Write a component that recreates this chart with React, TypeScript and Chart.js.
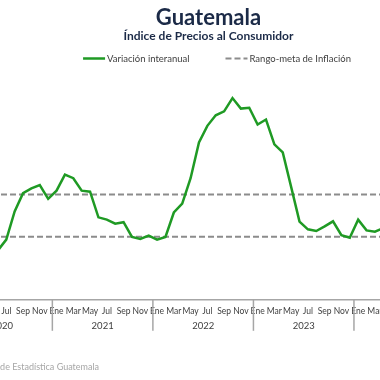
import React, { useEffect, useRef } from 'react';
import { Chart, registerables } from 'chart.js';

Chart.register(...registerables);

const FONT = 'Lato, "Open Sans", sans-serif';

const years = ['2020', '2021', '2022', '2023', '2024'];
const months = ['Ene', 'Feb', 'Mar', 'Abr', 'May', 'Jun', 'Jul', 'Ago', 'Sep', 'Oct', 'Nov', 'Dic'];
const labels = years.flatMap((y) => months.map((m) => `${m} ${y}`));

// Variación interanual (%), por año
const variacion2020 = [null, null, null, null, null, 2.35, 2.86, 4.2, 5.07, 5.3, 5.45, 4.8];
const variacion2021 = [5.19, 5.95, 5.78, 5.19, 5.14, 3.92, 3.81, 3.62, 3.69, 2.99, 2.89, 3.05];
const variacion2022 = [2.86, 2.99, 4.15, 4.57, 5.78, 7.48, 8.27, 8.77, 8.96, 9.59, 9.09, 9.13];
const variacion2023 = [8.33, 8.57, 7.39, 7.01, 5.37, 3.72, 3.35, 3.27, 3.49, 3.73, 3.07, 2.95];
const variacion2024 = [3.81, 3.3, 3.24, 3.41, null, null, null, null, null, null, null, null];
const variacion = [...variacion2020, ...variacion2021, ...variacion2022, ...variacion2023, ...variacion2024];

// Rango-meta de inflación (%)
const metaInferior = 3;
const metaSuperior = 5;

const TITLE = 'Guatemala';
const SUBTITLE = 'Índice de Precios al Consumidor';
const LEGEND_VAR = 'Variación interanual';
const LEGEND_META = 'Rango-meta de Inflación';
const SOURCE = 'Fuente: Instituto Nacional de Estadística Guatemala';

const GREEN = '#1f9a24';
const DASH_GRAY = '#8c8c8c';
const AXIS_GRAY = '#a6a6a6';
const TEXT_DARK = '#404040';
const NAVY = '#1b2a47';

const CANVAS_LEFT = -57;
const CANVAS_W = 534;
const CANVAS_H = 380;

const yearAxisPlugin = {
  id: 'yearAxis',
  afterDraw(chart: any) {
    const xs = chart.scales.x;
    const ctx = chart.ctx;
    const step = xs.getPixelForValue(1) - xs.getPixelForValue(0);
    const axisY = xs.top;
    ctx.save();
    ctx.strokeStyle = AXIS_GRAY;
    ctx.lineWidth = 1.5;
    ctx.fillStyle = TEXT_DARK;
    ctx.font = `9.5px ${FONT}`;
    ctx.textAlign = 'center';
    ctx.textBaseline = 'middle';
    years.forEach((yr, i) => {
      const start = xs.getPixelForValue(i * 12) - step / 2;
      const end = xs.getPixelForValue(i * 12 + 11) + step / 2;
      ctx.beginPath();
      ctx.moveTo(start, axisY);
      ctx.lineTo(start, axisY + 31);
      ctx.stroke();
      if (i === years.length - 1) {
        ctx.beginPath();
        ctx.moveTo(end, axisY);
        ctx.lineTo(end, axisY + 31);
        ctx.stroke();
      }
      ctx.fillText(yr, (start + end) / 2, axisY + 26);
    });
    ctx.restore();
  },
};

const legendPlugin = {
  id: 'customLegend',
  afterDraw(chart: any) {
    const ctx = chart.ctx;
    ctx.save();
    ctx.font = `9.5px ${FONT}`;
    const items = [
      { text: LEGEND_VAR, color: GREEN, dash: [] as number[], width: 2.5 },
      { text: LEGEND_META, color: DASH_GRAY, dash: [6, 3], width: 2 },
    ];
    const sym = 22;
    const gap = 2;
    const itemGap = 36;
    const widths = items.map((it) => sym + gap + ctx.measureText(it.text).width);
    const total = widths[0] + itemGap + widths[1];
    let x = chart.width / 2 + 7 - total / 2;
    const y = 58.5;
    items.forEach((it, i) => {
      ctx.beginPath();
      ctx.setLineDash(it.dash);
      ctx.strokeStyle = it.color;
      ctx.lineWidth = it.width;
      ctx.moveTo(x, y);
      ctx.lineTo(x + sym, y);
      ctx.stroke();
      ctx.setLineDash([]);
      ctx.fillStyle = TEXT_DARK;
      ctx.textAlign = 'left';
      ctx.textBaseline = 'middle';
      ctx.fillText(it.text, x + sym + gap, y);
      x += widths[i] + itemGap;
    });
    ctx.restore();
  },
};

export default function App() {
  const canvasRef = useRef<HTMLCanvasElement | null>(null);

  useEffect(() => {
    if (!canvasRef.current) return;
    const chart = new Chart(canvasRef.current, {
      type: 'line',
      data: {
        labels,
        datasets: [
          {
            label: LEGEND_VAR,
            data: variacion,
            borderColor: GREEN,
            borderWidth: 2.5,
            pointRadius: 0,
            tension: 0,
            fill: false,
          },
          {
            label: LEGEND_META,
            data: labels.map(() => metaSuperior),
            borderColor: DASH_GRAY,
            borderWidth: 2,
            borderDash: [6, 3],
            pointRadius: 0,
            fill: false,
          },
          {
            label: LEGEND_META + ' (inferior)',
            data: labels.map(() => metaInferior),
            borderColor: DASH_GRAY,
            borderWidth: 2,
            borderDash: [6, 3],
            pointRadius: 0,
            fill: false,
          },
        ],
      },
      options: {
        responsive: false,
        animation: false,
        layout: { padding: { left: 0, right: 3, top: 0, bottom: 58 } },
        plugins: {
          title: {
            display: true,
            text: TITLE,
            color: NAVY,
            font: { family: FONT, size: 22, weight: 'bold', lineHeight: 1.1 },
            padding: { top: 6, bottom: 0 },
          },
          subtitle: {
            display: true,
            text: SUBTITLE,
            color: NAVY,
            font: { family: FONT, size: 12, weight: 'bold', lineHeight: 1 },
            padding: { top: 0, bottom: 30 },
          },
          legend: { display: false },
          tooltip: { enabled: false },
        },
        scales: {
          x: {
            offset: true,
            grid: { display: false, drawTicks: false },
            border: { display: true, color: AXIS_GRAY, width: 1.5 },
            ticks: {
              autoSkip: false,
              maxRotation: 0,
              minRotation: 0,
              padding: 6,
              color: TEXT_DARK,
              font: { family: FONT, size: 8.5 },
              callback: (_v: any, i: number) => (i % 2 === 0 ? months[i % 12] : ''),
            },
          },
          y: {
            position: 'right',
            min: 0,
            max: 10.82,
            grid: { display: false, drawTicks: false },
            border: { display: false },
            ticks: { display: false },
            afterFit: (s: any) => {
              s.width = 19.5;
            },
          },
        },
      },
      plugins: [yearAxisPlugin, legendPlugin],
    } as any);
    return () => chart.destroy();
  }, []);

  return (
    <div
      style={{
        position: 'fixed',
        left: 0,
        top: 0,
        width: 380,
        height: 380,
        overflow: 'hidden',
        background: '#fff',
      }}
    >
      <div style={{ position: 'absolute', left: CANVAS_LEFT, top: 0, width: CANVAS_W, height: CANVAS_H }}>
        <canvas ref={canvasRef} width={CANVAS_W} height={CANVAS_H} style={{ width: CANVAS_W, height: CANVAS_H }} />
      </div>
      <div
        style={{
          position: 'absolute',
          right: 281,
          top: 362,
          fontFamily: FONT,
          fontSize: 9,
          lineHeight: '10px',
          color: AXIS_GRAY,
          whiteSpace: 'nowrap',
        }}
      >
        {SOURCE}
      </div>
    </div>
  );
}
